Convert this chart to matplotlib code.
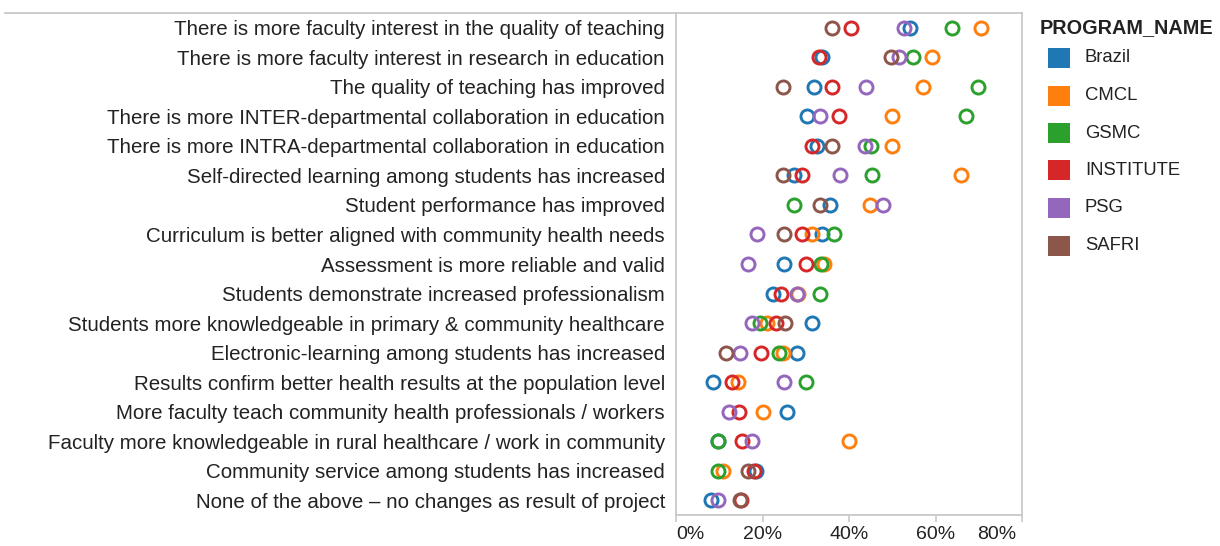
import numpy as np
import matplotlib
matplotlib.use("Agg")
import matplotlib.pyplot as plt
import matplotlib.transforms as mtransforms
from matplotlib.patches import Rectangle
from matplotlib.lines import Line2D

plt.rcParams["font.family"] = ["Liberation Sans", "DejaVu Sans"]

nan = np.nan

categories = [
    "There is more faculty interest in the quality of teaching",
    "There is more faculty interest in research in education",
    "The quality of teaching has improved",
    "There is more INTER-departmental collaboration in education",
    "There is more INTRA-departmental collaboration in education",
    "Self-directed learning among students has increased",
    "Student performance has improved",
    "Curriculum is better aligned with community health needs",
    "Assessment is more reliable and valid",
    "Students demonstrate increased professionalism",
    "Students more knowledgeable in primary & community healthcare",
    "Electronic-learning among students has increased",
    "Results confirm better health results at the population level",
    "More faculty teach community health professionals / workers",
    "Faculty more knowledgeable in rural healthcare / work in community",
    "Community service among students has increased",
    "None of the above \u2013 no changes as result of project",
]

programs = ["Brazil", "CMCL", "GSMC", "INSTITUTE", "PSG", "SAFRI"]
colors = ["#1f77b4", "#ff7f0e", "#2ca02c", "#d62728", "#9467bd", "#8c564b"]

# percent of respondents, one value per category (nan = no mark)
safri = [36.1, 49.7, 24.8, nan, 36.1, 24.8, 33.4, 25.0, nan, nan, 25.2, 11.6, nan, nan, nan, 16.7, 14.8]
psg = [52.8, 51.6, 43.9, 33.4, 43.7, 37.9, 47.9, 18.8, 16.6, 28.0, 17.5, 14.8, 25.0, 12.3, 17.5, nan, 9.8]
institute = [40.5, 33.1, 36.0, 37.7, 31.4, 29.2, nan, 29.2, 30.1, 24.3, 23.1, 19.6, 12.9, 14.6, 15.2, 18.0, 15.0]
gsmc = [63.7, 54.7, 69.8, 67.0, 45.2, 45.4, 27.3, 36.5, 33.5, 33.3, 19.4, 23.7, 30.0, nan, 9.6, 9.8, nan]
cmcl = [70.5, 59.1, 57.0, 49.9, 49.9, 65.9, 44.9, 31.4, 34.2, 28.3, 21.0, 24.8, 14.4, 20.0, 40.0, 10.9, nan]
brazil = [54.1, 33.7, 31.9, 30.2, 32.5, 27.3, 35.6, 33.8, 25.0, 22.4, 31.4, 27.9, 8.6, 25.6, 9.8, 18.5, 8.2]

values = {"Brazil": brazil, "CMCL": cmcl, "GSMC": gsmc,
          "INSTITUTE": institute, "PSG": psg, "SAFRI": safri}

xticks = [0, 20, 40, 60, 80]
xtick_labels = ["0%", "20%", "40%", "60%", "80%"]

W, H = 1220, 546
fig = plt.figure(figsize=(W / 100, H / 100), dpi=100)
ax = fig.add_axes([676 / W, 1 - 515 / H, (1022 - 676) / W, (515 - 13) / H])

ypos = np.arange(len(categories))
for name, col in zip(programs, colors):
    ax.plot(values[name], ypos, linestyle="none", marker="o", ms=9.4,
            mfc="none", mec=col, mew=2.1, label=name)

ax.set_xlim(0, 80)
ax.set_ylim(len(categories) - 0.5, -0.5)
ax.set_yticks(ypos)
ax.set_yticklabels(categories, fontsize=14.8, color="#222222")
ax.tick_params(axis="y", length=0, pad=8)
ax.set_xticks(xticks)
ax.set_xticklabels(xtick_labels, fontsize=14, color="#222222")
ax.tick_params(axis="x", length=5, width=1.2, color="#c8c8c8", pad=3)
tl = ax.get_xticklabels()
tl[0].set_horizontalalignment("left")
tl[-1].set_horizontalalignment("right")
tl[-1].set_transform(tl[-1].get_transform() +
                     mtransforms.ScaledTranslation(-6 / 100, 0, fig.dpi_scale_trans))

for s in ["left", "bottom", "right", "top"]:
    ax.spines[s].set_color("#c8c8c8")
    ax.spines[s].set_linewidth(1.3)

# top border line running across the label area
fig.add_artist(Line2D([5 / W, 676 / W], [1 - 13 / H, 1 - 13 / H],
                      color="#c8c8c8", lw=1.3))

# legend
fig.text(1040 / W, 1 - 28 / H, "PROGRAM_NAME", fontsize=14.3, fontweight="bold",
         color="#222222", va="center", ha="left")
for i, (name, col) in enumerate(zip(programs, colors)):
    yc = 58 + 37.5 * i
    fig.add_artist(Rectangle((1048 / W, 1 - (yc + 10) / H), 22 / W, 20 / H,
                             facecolor=col, edgecolor="none",
                             transform=fig.transFigure))
    fig.text(1085 / W, 1 - yc / H, name, fontsize=13.3, color="#222222",
             va="center", ha="left")

fig.savefig("out.png", dpi=100, facecolor="white")
